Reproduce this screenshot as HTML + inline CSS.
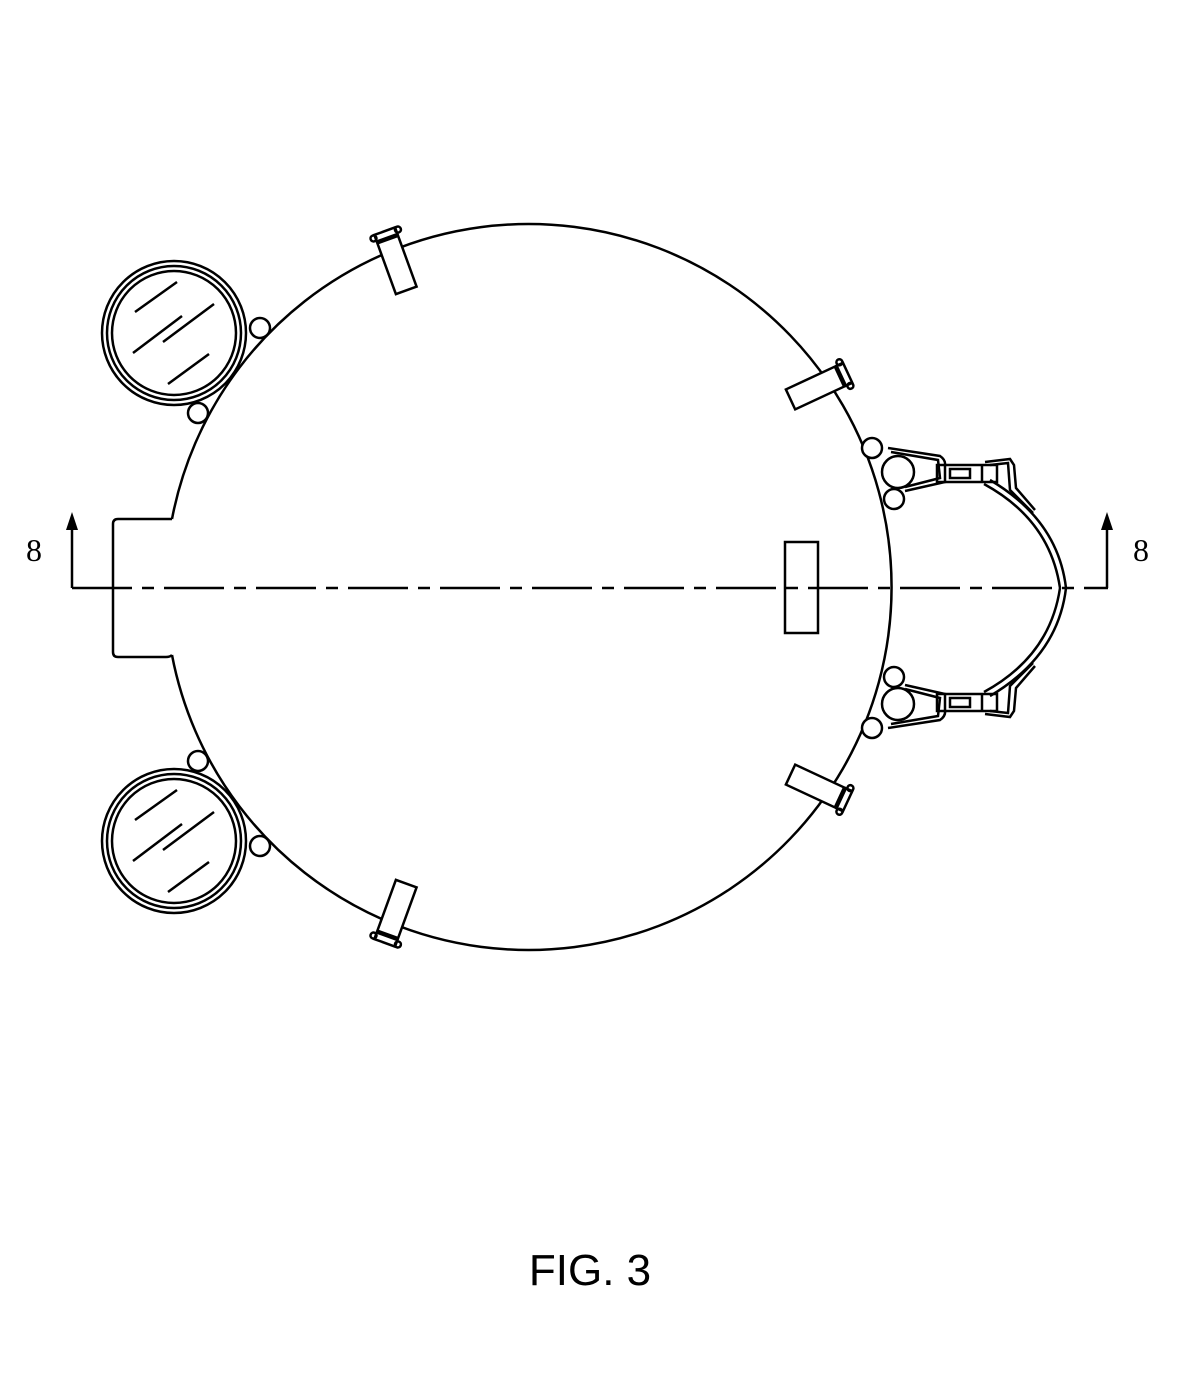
<!DOCTYPE html>
<html><head><style>body{margin:0;background:#fff}svg{display:block}</style></head><body>
<svg width="1189" height="1374" viewBox="0 0 1189 1374" xmlns="http://www.w3.org/2000/svg">
<defs>
<g id="hatch"><line x1="135" y1="312" x2="177" y2="282"/><line x1="133" y1="353" x2="182" y2="316"/>
<line x1="163" y1="342" x2="214" y2="304"/><line x1="168" y1="384" x2="209" y2="354"/></g>
</defs>
<g fill="none" stroke="#000" stroke-width="2.5">
<path d="M172 519 A363 363 0 1 1 172 655"/>
<path d="M172 519 Q170 519 166 519 L118 519 Q113 519 113 524 L113 652 Q113 657 118 657 L166 657 Q170 657 172 655"/>
<line x1="72" y1="588" x2="1108" y2="588" stroke-dasharray="60 10 12 10"/>
<line x1="72" y1="588" x2="72" y2="530"/>
<line x1="1107" y1="588" x2="1107" y2="530"/>
<rect x="785" y="542" width="33" height="91"/>
<g id="lens">
<circle cx="174" cy="333" r="72"/><circle cx="174" cy="333" r="67"/><circle cx="174" cy="333" r="62"/>
<circle cx="260" cy="328" r="10"/><circle cx="198" cy="413" r="10"/>
</g>
<use href="#lens" transform="translate(0,1174) scale(1,-1)"/>
<use href="#hatch"/>
<use href="#hatch" transform="translate(0,508)"/>
<g id="tab1"><g transform="translate(397,265) rotate(-20)"><rect x="-11" y="-27" width="22" height="54" fill="#fff"/><rect x="-11" y="-36" width="22" height="7"/><circle cx="-13" cy="-33" r="3"/><circle cx="13" cy="-33" r="3"/></g></g>
<g id="tab2"><g transform="translate(815,388) rotate(65)"><rect x="-11" y="-27" width="22" height="54" fill="#fff"/><rect x="-11" y="-36" width="22" height="7"/><circle cx="-13" cy="-33" r="3"/><circle cx="13" cy="-33" r="3"/></g></g>
<use href="#tab1" transform="translate(0,1174) scale(1,-1)"/>
<use href="#tab2" transform="translate(0,1174) scale(1,-1)"/>
<g id="clamp">
<circle cx="898" cy="472" r="16" fill="#fff"/><circle cx="872" cy="448" r="10" fill="#fff"/><circle cx="894" cy="499" r="10" fill="#fff"/>
<path d="M888 448 L940 456 Q946 460 945 466 L945 482 L905 491"/>
<path d="M891 452 L938 460 L940 478 L905 487"/>
<rect x="937" y="465" width="60" height="17"/>
<rect x="950" y="469" width="20" height="9"/><line x1="982" y1="465" x2="982" y2="482"/>
<path d="M985 462 L1010 459 L1014 465 L1016 488 L1035 510"/>
<path d="M990 465 L1008 463 L1010 490 L1033 513"/>
<path d="M984 484 Q1050 520 1060 588"/>
<path d="M990 480 Q1058 520 1066 588"/>
</g>
<use href="#clamp" transform="translate(0,1176) scale(1,-1)"/>
</g>
<path d="M72 512 L66 530 L78 530 Z M1107 512 L1101 530 L1113 530 Z" fill="#000"/>
<g font-family="Liberation Serif, serif" font-size="32" fill="#000">
<text x="26" y="561">8</text><text x="1133" y="561">8</text>
</g>
<text x="590" y="1285" font-family="Liberation Sans, sans-serif" font-size="44" text-anchor="middle">FIG. 3</text>
</svg>
</body></html>
